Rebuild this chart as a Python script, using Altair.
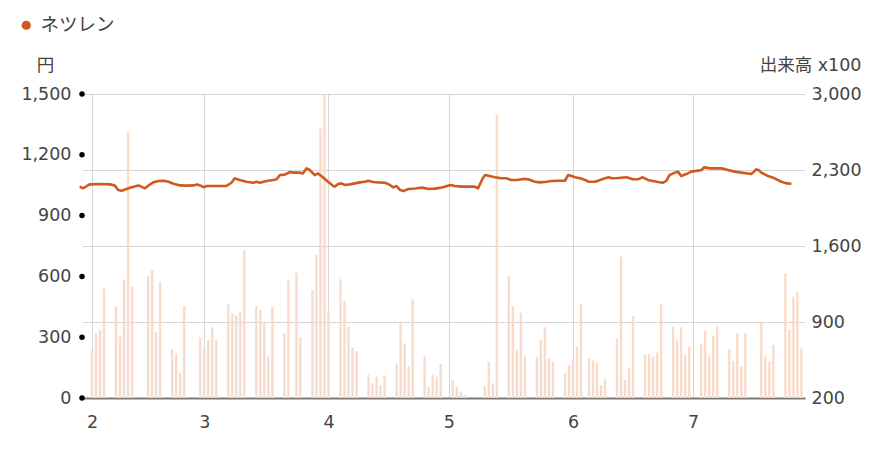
import altair as alt
import pandas as pd

series_name = "ネツレン"
price_unit = "円"
volume_title = "出来高 x100"

# trading days counted from 1 Feb (day 0); volume in units of 100 shares
bar_day = [0, 1, 2, 3,
           6, 7, 8, 9, 10,
           14, 15, 16, 17,
           20, 21, 22, 23,
           27, 28, 29, 30, 31,
           34, 35, 36, 37, 38,
           41, 42, 43, 44, 45,
           48, 49, 51, 52,
           55, 56, 57, 58, 59,
           62, 63, 64, 65, 66,
           69, 70, 71, 72, 73,
           76, 77, 78, 79, 80,
           83, 84, 85, 86, 87,
           90, 91, 92, 93,
           98, 99, 100, 101,
           104, 105, 106, 107, 108,
           111, 112, 113, 114, 115,
           118, 119, 120, 121, 122,
           124, 125, 126, 127, 128,
           131, 132, 133, 134, 135,
           138, 139, 140, 141, 142,
           145, 146, 147, 148, 149,
           152, 153, 154, 155, 156,
           159, 160, 161, 162, 163,
           167, 168, 169, 170,
           173, 174, 175, 176, 177]
bar_vol = [642, 796, 826, 1210,
           1041, 765, 1287, 2653, 1225,
           1324, 1379, 811, 1271,
           648, 611, 433, 1047,
           759, 673, 734, 851, 734,
           1063, 980, 958, 995, 1563,
           1047, 1011, 888, 581, 1041,
           796, 1287, 1354, 759,
           1195, 1517, 2684, 3100, 995,
           1293, 1093, 857, 664, 633,
           412, 335, 396, 320, 406,
           519, 903, 703, 489, 1109,
           581, 304, 412, 396, 513,
           366, 304, 258, 228,
           311, 535, 335, 2806,
           1324, 1047, 642, 986, 581,
           581, 734, 851, 565, 535,
           427, 504, 550, 673, 1066,
           565, 544, 525, 320, 372,
           750, 1502, 366, 473, 955,
           605, 605, 581, 618, 1066,
           857, 728, 851, 596, 673,
           697, 820, 581, 771, 857,
           648, 541, 796, 489, 796,
           894, 581, 535, 688,
           1348, 832, 1133, 1179, 657]

line_day = [-3.1, -2.2, -0.6, 2.0, 4.5, 5.7, 6.5, 7.4, 8.6, 9.9, 11.6, 12.4, 13.2, 14.1,
            15.3, 16.6, 17.8, 19.1, 20.3, 22.0, 23.7, 25.3, 26.2, 27.0, 27.8, 28.7,
            30.2, 33.5, 34.8, 35.6, 36.8, 38.5, 40.2, 41.0, 41.9, 43.5, 45.2, 46.0,
            46.9, 48.1, 49.4, 50.2, 51.9, 52.6, 53.5, 54.3, 55.6, 56.4, 57.6, 58.9,
            60.2, 60.6, 61.4, 62.2, 63.1, 64.3, 65.6, 66.8, 68.1, 68.9, 70.2, 71.4,
            73.1, 73.9, 75.2, 76.0, 76.9, 77.7, 78.9, 80.6, 82.3, 84.0, 85.6, 87.3,
            89.5, 90.5, 92.1, 93.8, 95.5, 96.3, 97.5, 98.1, 99.2, 100.5, 102.1, 103.4,
            104.6, 105.9, 107.6, 108.8, 110.5, 111.8, 113.4, 114.7, 116.3, 118.0,
            118.8, 119.7, 120.5, 121.8, 123.0, 123.9, 125.5, 126.8, 128.0, 128.9,
            129.7, 130.8, 132.0, 133.3, 134.2, 134.9, 136.2, 137.4, 138.7, 140.0,
            141.2, 142.5, 143.3, 144.1, 145.4, 146.2, 147.0, 148.3, 149.5, 151.2,
            152.1, 152.7, 154.2, 155.8, 157.1, 158.7, 160.3, 162.0, 163.7, 164.5,
            165.2, 165.7, 166.3, 167.0, 168.7, 170.3, 172.0, 173.3, 174.5]
line_price = [1042, 1035, 1054, 1056, 1054, 1049, 1026, 1023, 1031, 1040, 1049, 1042, 1035, 1049,
              1064, 1071, 1072, 1067, 1057, 1049, 1048, 1049, 1054, 1049, 1040, 1046,
              1046, 1046, 1062, 1084, 1076, 1067, 1062, 1067, 1062, 1071, 1076, 1079,
              1100, 1102, 1115, 1112, 1112, 1108, 1133, 1125, 1100, 1108, 1089, 1067,
              1046, 1043, 1056, 1059, 1051, 1054, 1059, 1064, 1067, 1072, 1066, 1064,
              1062, 1056, 1039, 1046, 1026, 1021, 1031, 1034, 1038, 1031, 1033, 1039,
              1051, 1046, 1043, 1043, 1043, 1034, 1084, 1100, 1095, 1089, 1084, 1084,
              1076, 1076, 1081, 1079, 1067, 1064, 1067, 1071, 1072, 1072,
              1100, 1095, 1089, 1084, 1076, 1067, 1067, 1076, 1084, 1089,
              1084, 1084, 1087, 1089, 1084, 1079, 1079, 1089, 1076, 1071,
              1066, 1062, 1072, 1100, 1112, 1117, 1095, 1105, 1117, 1122,
              1125, 1138, 1133, 1133, 1133, 1125, 1117, 1112, 1108, 1105,
              1117, 1128, 1125, 1112, 1095, 1084, 1067, 1059, 1057]

price_ticks = [0, 300, 600, 900, 1200, 1500]
vol_ticks = [200, 900, 1600, 2300, 3000]
month_day = [0, 28, 59, 89, 120, 150]
month_label = ["2", "3", "4", "5", "6", "7"]

LINE = "#cf5a1f"
BAR = "#f9dbca"
GRID = "#d6d6d6"
TXT = "#444444"
LATIN = "DejaVu Sans"
CJK = "Noto Sans CJK JP"
W, H = 723, 304

bars_df = pd.DataFrame({"day": bar_day, "vol": bar_vol})
line_df = pd.DataFrame({"day": line_day, "price": line_price, "series": series_name})
tick_df = pd.DataFrame({"price": price_ticks})

label_expr = " : ".join(
    f"datum.value == {d} ? '{l}'" for d, l in zip(month_day, month_label)
) + " : ''"

x_scale = alt.Scale(domain=[-2.5, 177.9], nice=False, zero=False)

x_axis = alt.Axis(values=month_day, labelExpr=label_expr, grid=True, gridColor=GRID,
                  ticks=False, domain=True, domainColor="#7a7a7a", domainWidth=2,
                  labelPadding=15, labelFontSize=17.5, labelColor=TXT, labelFont=LATIN,
                  title=None)

vol_axis = alt.Axis(orient="right", values=vol_ticks, format=",d", grid=True, gridColor=GRID,
                    ticks=False, domain=False, labelPadding=6, labelFontSize=17.5,
                    labelColor=TXT, labelFont=LATIN, labelBaseline="middle",
                    title=volume_title, titleAngle=0, titleAlign="right",
                    titleBaseline="alphabetic", titleX=56, titleY=-24,
                    titleFont=f"{LATIN}, {CJK}", titleFontSize=17.5,
                    titleFontWeight="normal", titleColor=TXT)

price_axis = alt.Axis(orient="left", values=price_ticks, format=",d", grid=False,
                      ticks=False, domain=False, labelPadding=11, labelFontSize=17.5,
                      labelColor=TXT, labelFont=LATIN, labelBaseline="middle",
                      title=price_unit, titleAngle=0, titleAlign="center",
                      titleBaseline="alphabetic", titleX=-37, titleY=-24,
                      titleFont=CJK, titleFontSize=17.5, titleFontWeight="normal",
                      titleColor=TXT)

price_scale = alt.Scale(domain=[0, 1500], nice=False, zero=False)

bars = alt.Chart(bars_df).mark_rule(color=BAR, strokeWidth=2.4, clip=True).encode(
    x=alt.X("day:Q", scale=x_scale, axis=x_axis),
    y=alt.Y("vol:Q", scale=alt.Scale(domain=[200, 3000], nice=False, zero=False), axis=vol_axis),
    y2=alt.datum(200),
)

line = alt.Chart(line_df).mark_line(strokeWidth=2.6, strokeJoin="round").encode(
    x=alt.X("day:Q", scale=x_scale),
    y=alt.Y("price:Q", scale=price_scale, axis=price_axis),
    color=alt.Color("series:N", scale=alt.Scale(domain=[series_name], range=[LINE]),
                    legend=alt.Legend(orient="none", legendX=-65, legendY=-78, title=None,
                                      symbolType="circle", symbolSize=85,
                                      symbolFillColor=LINE, symbolStrokeWidth=0,
                                      labelFont=CJK, labelFontSize=18.5, labelColor=TXT,
                                      labelOffset=5, padding=0)),
)

dots = alt.Chart(tick_df).mark_circle(color="black", size=30, opacity=1).encode(
    x=alt.value(0),
    y=alt.Y("price:Q", scale=price_scale, axis=price_axis),
)

chart = alt.layer(bars, alt.layer(line, dots)).resolve_scale(y="independent").properties(
    width=W, height=H,
    autosize=alt.AutoSizeParams(type="none"),
    padding={"left": 74, "top": 86, "right": 56, "bottom": 45},
).configure_view(stroke="transparent")

chart.save("out.html", embed_options={"renderer": "svg", "actions": False})
